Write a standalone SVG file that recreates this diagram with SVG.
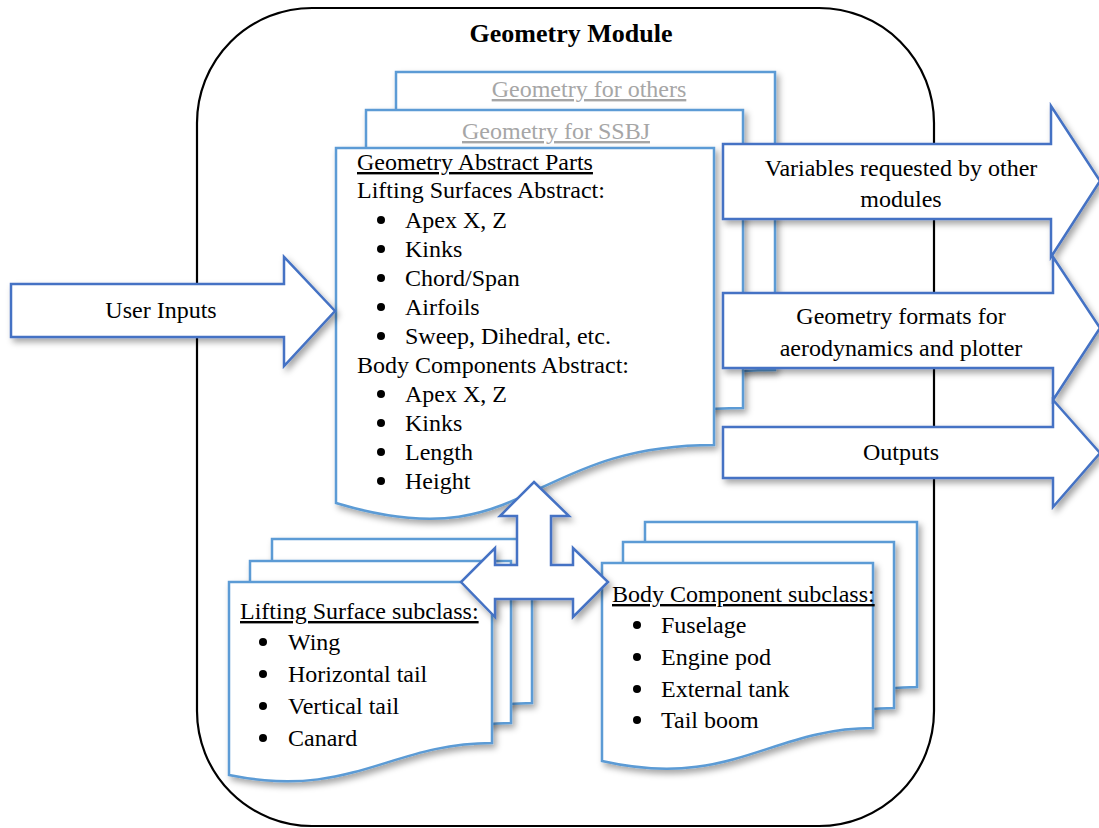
<svg xmlns="http://www.w3.org/2000/svg" width="1099" height="828" viewBox="0 0 1099 828">
<defs>
<filter id="sh" x="-10%" y="-10%" width="130%" height="130%">
<feDropShadow dx="3" dy="4" stdDeviation="3" flood-color="#000" flood-opacity="0.35"/>
</filter>
<style>
.t{font-family:"Liberation Serif","Times New Roman",serif;font-size:24px;fill:#000}
.u{text-decoration:underline}
.g{fill:#A6A6A6}
.c{text-anchor:middle}
.doc{fill:#fff;stroke:#5B9BD5;stroke-width:2.5;filter:url(#sh)}
.arr{fill:#fff;stroke:#4472C4;stroke-width:2.5;stroke-linejoin:miter;filter:url(#sh)}
.b{fill:#000}
</style>
</defs>
<rect width="1099" height="828" fill="#fff"/>
<g id="module">
<rect x="197" y="8" width="737" height="818" rx="115" ry="115" fill="none" stroke="#000" stroke-width="2.2"/>
<text class="t c" x="571" y="42" style="font-weight:bold;font-size:26px">Geometry Module</text>
</g>
<g id="geometry-others">
<path class="doc" d="M396,72 H775 V370 C586,370 586,485 396,428 Z"/>
<text class="t c u g" x="589" y="97">Geometry for others</text>
</g>
<g id="geometry-ssbj">
<path class="doc" d="M366,110 H743 V408 C554,408 554,523 366,466 Z"/>
<text class="t c u g" x="556" y="139">Geometry for SSBJ</text>
</g>
<g id="geometry-abstract">
<path class="doc" d="M336,148 H714 V445 C525,445 525,560 336,503 Z"/>
<text class="t u" x="357" y="170">Geometry Abstract Parts</text>
<text class="t" x="357" y="198">Lifting Surfaces Abstract:</text>
<circle class="b" cx="381" cy="220" r="4"/><text class="t" x="405" y="228">Apex X, Z</text>
<circle class="b" cx="381" cy="249" r="4"/><text class="t" x="405" y="257">Kinks</text>
<circle class="b" cx="381" cy="278" r="4"/><text class="t" x="405" y="286">Chord/Span</text>
<circle class="b" cx="381" cy="307" r="4"/><text class="t" x="405" y="315">Airfoils</text>
<circle class="b" cx="381" cy="336" r="4"/><text class="t" x="405" y="344">Sweep, Dihedral, etc.</text>
<text class="t" x="357" y="373">Body Components Abstract:</text>
<circle class="b" cx="381" cy="394" r="4"/><text class="t" x="405" y="402">Apex X, Z</text>
<circle class="b" cx="381" cy="423" r="4"/><text class="t" x="405" y="431">Kinks</text>
<circle class="b" cx="381" cy="452" r="4"/><text class="t" x="405" y="460">Length</text>
<circle class="b" cx="381" cy="481" r="4"/><text class="t" x="405" y="489">Height</text>
</g>
<g id="lifting-surface">
<path class="doc" d="M272,539 H532 V703 C432,703 392,760 272,735 Z"/>
<path class="doc" d="M250,561 H511 V723 C411,723 371,780 250,755 Z"/>
<path class="doc" d="M229,582 H492 V743 C390,743 350,800 229,775 Z"/>
<text class="t u" x="240" y="619">Lifting Surface subclass:</text>
<circle class="b" cx="263" cy="642" r="4"/><text class="t" x="288" y="650">Wing</text>
<circle class="b" cx="263" cy="674" r="4"/><text class="t" x="288" y="682">Horizontal tail</text>
<circle class="b" cx="263" cy="706" r="4"/><text class="t" x="288" y="714">Vertical tail</text>
<circle class="b" cx="263" cy="738" r="4"/><text class="t" x="288" y="746">Canard</text>
</g>
<g id="body-component">
<path class="doc" d="M645,522 H917 V687 C814,687 774,749 645,720 Z"/>
<path class="doc" d="M623,542 H894 V708 C791,708 751,770 623,741 Z"/>
<path class="doc" d="M602,563 H873 V728 C770,728 730,790 602,761 Z"/>
<text class="t u" x="612" y="602">Body Component subclass:</text>
<circle class="b" cx="637" cy="625" r="4"/><text class="t" x="661" y="633">Fuselage</text>
<circle class="b" cx="637" cy="657" r="4"/><text class="t" x="661" y="665">Engine pod</text>
<circle class="b" cx="637" cy="689" r="4"/><text class="t" x="661" y="697">External tank</text>
<circle class="b" cx="637" cy="720" r="4"/><text class="t" x="661" y="728">Tail boom</text>
</g>
<g id="connectors">
<g id="user-inputs">
<path class="arr" d="M11,284 H284 V257 L335,311 L284,366 V337 H11 Z"/>
<text class="t c" x="161" y="318">User Inputs</text>
</g>
<g id="variables-out">
<path class="arr" d="M723,144 H1051 V106 L1100,181 L1051,257 V219 H723 Z"/>
<text class="t c" x="901" y="176">Variables requested by other</text>
<text class="t c" x="901" y="207">modules</text>
</g>
<g id="formats-out">
<path class="arr" d="M723,293 H1053 V257 L1100,328 L1053,400 V368 H723 Z"/>
<text class="t c" x="901" y="324">Geometry formats for</text>
<text class="t c" x="901" y="356">aerodynamics and plotter</text>
</g>
<g id="outputs">
<path class="arr" d="M723,427 H1053 V400 L1100,453 L1053,507 V478 H723 Z"/>
<text class="t c" x="901" y="460">Outputs</text>
</g>
<path id="three-way" class="arr" d="M534,482 L569,516 L551,516 L551,565 L573,565 L573,548 L608,582 L573,617 L573,599 L495,599 L495,617 L461,582 L495,548 L495,565 L517,565 L517,516 L500,516 Z"/>
</g>
</svg>
